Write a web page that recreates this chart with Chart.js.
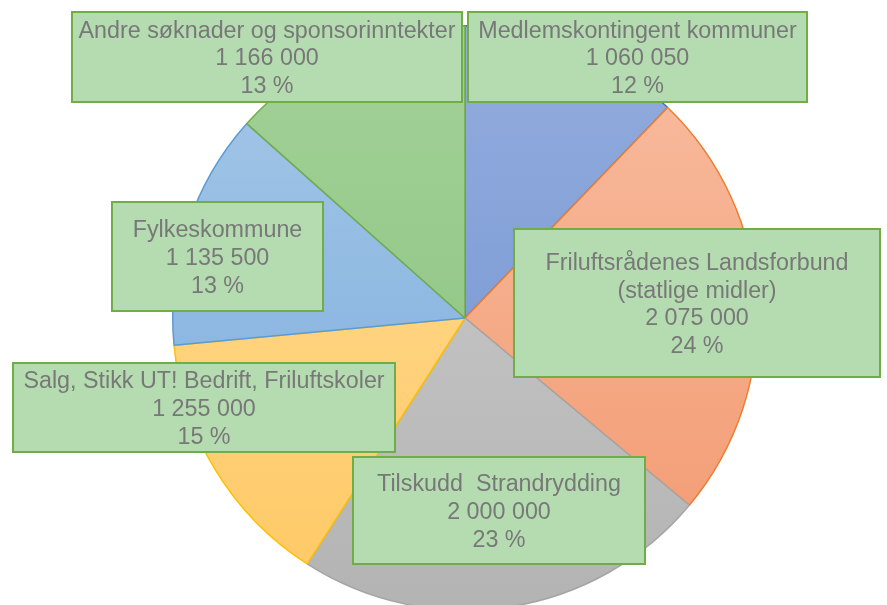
<!DOCTYPE html>
<html>
<head>
<meta charset="utf-8">
<script src="https://cdn.jsdelivr.net/npm/chart.js@4"></script>
<style>
  html, body { margin: 0; padding: 0; background: #fff; overflow: hidden; }
  #wrap { width: 887px; height: 640px; position: relative; }
</style>
</head>
<body>
<div id="wrap"><canvas id="chart-pie"></canvas></div>
<script>
// data (clockwise from 12 o'clock)
const categories = [
    'Medlemskontingent kommuner',
    'Friluftsrådenes Landsforbund\n(statlige midler)',
    'Tilskudd  Strandrydding',
    'Salg, Stikk UT! Bedrift, Friluftskoler',
    'Fylkeskommune',
    'Andre søknader og sponsorinntekter'
];
const amounts = [1060050, 2075000, 2000000, 1255000, 1135500, 1166000];
const percentLabels = [12, 24, 23, 15, 13, 13];

// colours
const topColors = ['#93acdd', '#f8bda1', '#cfcfcf', '#ffdc9a', '#a6c8e8', '#a3d198'];
const bottomColors = ['#6f92d0', '#f2996f', '#b3b3b3', '#ffc964', '#78aadb', '#86c07b'];
const borderColors = ['#4472c4', '#ed7d31', '#a5a5a5', '#ffc000', '#5b9bd5', '#70ad47'];

// label box placement (left, top, width, height) in pixels
const labelBoxes = [
    [468, 12, 339, 90],
    [514, 229, 366, 148],
    [353, 457, 292, 107],
    [13, 363, 382, 89],
    [112, 202, 211, 109],
    [72, 12, 390, 90]
];

function formatAmount(v) {
    return String(v).replace(/\B(?=(\d{3})+(?!\d))/g, ' ');
}

// gradient fill per slice, top to bottom of the pie
function sliceFill(context) {
    const chart = context.chart;
    const area = chart.chartArea;
    const i = context.dataIndex;
    if (!area) {
        return topColors[i];
    }
    const g = chart.ctx.createLinearGradient(0, area.top, 0, area.bottom);
    g.addColorStop(0, topColors[i]);
    g.addColorStop(1, bottomColors[i]);
    return g;
}

// draws the green data-label boxes
const labelBoxPlugin = {
    id: 'labelBoxPlugin',
    afterDatasetsDraw(chart) {
        const ctx = chart.ctx;
        ctx.save();
        ctx.font = '23.3px "Liberation Sans", Arial, sans-serif';
        ctx.textAlign = 'center';
        ctx.textBaseline = 'middle';
        categories.forEach(function (name, i) {
            const b = labelBoxes[i];
            ctx.fillStyle = '#b5dcb0';
            ctx.fillRect(b[0], b[1], b[2], b[3]);
            ctx.lineWidth = 2;
            ctx.strokeStyle = '#70ad47';
            ctx.strokeRect(b[0], b[1], b[2], b[3]);

            const lines = name.split('\n');
            lines.push(formatAmount(amounts[i]));
            lines.push(percentLabels[i] + ' %');
            const lh = 27.7;
            const cx = b[0] + b[2] / 2;
            const y0 = b[1] + b[3] / 2 - (lines.length - 1) * lh / 2 + 2;
            ctx.fillStyle = '#787878';
            lines.forEach(function (line, k) {
                ctx.fillText(line, cx, y0 + k * lh);
            });
        });
        ctx.restore();
    }
};

const data = {
    labels: categories,
    datasets: [{
        data: amounts,
        backgroundColor: sliceFill,
        borderColor: borderColors,
        borderWidth: 1.5
    }]
};

const options = {
    responsive: true,
    maintainAspectRatio: false,
    animation: false,
    layout: {
        padding: { left: 172, right: 129, top: 25, bottom: 29 }
    },
    plugins: {
        legend: { display: false },
        tooltip: { enabled: false }
    }
};

const ctx = document.getElementById('chart-pie').getContext('2d');
const chart = new Chart(ctx, {
    type: 'pie',
    data: data,
    options: options,
    plugins: [labelBoxPlugin]
});
</script>
</body>
</html>
